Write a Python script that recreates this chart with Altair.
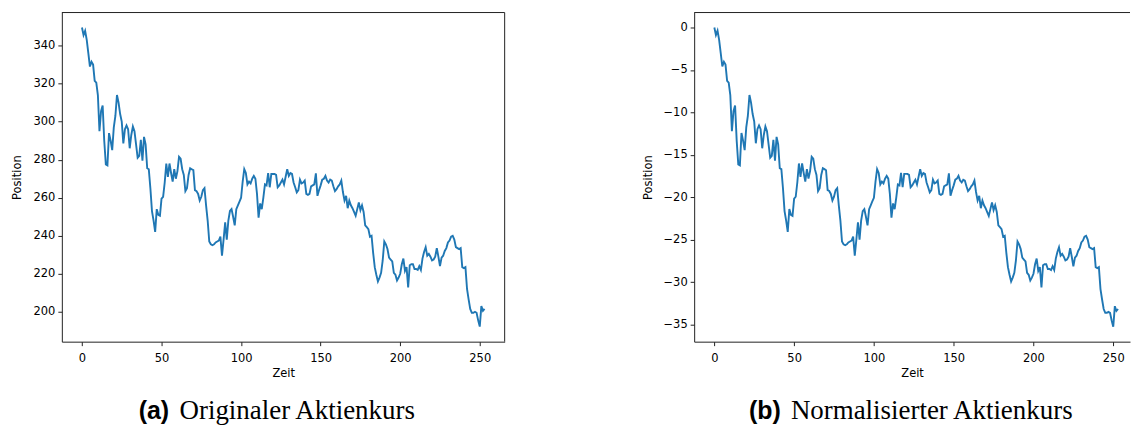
import altair as alt
import pandas as pd

# ---------------- data ----------------
zeit = list(range(254))

original = [
    349.5, 345.5, 347.8, 343, 336, 329, 331.5, 330, 321.5, 320.5,
    314, 295, 305.5, 308.5, 290, 277.5, 277, 294, 290, 285,
    297, 303, 314, 310, 304, 300, 288.6, 296, 298, 296,
    286, 293, 297.5, 295, 288, 281, 282, 290.5, 279.5, 292,
    288, 275.5, 275, 265, 253, 248, 242, 254, 251, 250.5,
    259.5, 260.5, 268, 278, 271, 278, 273, 268.5, 275, 270,
    274, 281.5, 280.5, 275, 272, 263.5, 265, 272, 275.5, 275,
    274.5, 264, 263.5, 262, 258.5, 260.5, 264, 265, 256, 248,
    237, 235.5, 235, 235.5, 236.5, 237, 237.5, 239.5, 229.5, 238,
    247, 238, 248, 253, 254, 250, 245.5, 254, 256, 258,
    260, 268.5, 275, 273, 267, 268.5, 267.5, 270, 271.5, 270,
    262, 249.5, 257, 254, 260, 267, 266.5, 273, 265.5, 272.5,
    272.5, 272.5, 272, 265.5, 266.5, 268, 269.5, 267, 271, 275,
    271.5, 273, 272.5, 268, 265.5, 262.8, 264, 269.5, 267.5, 268,
    269, 262, 261.5, 262, 266, 266.5, 267, 272.8, 261, 264,
    266.5, 269.5, 270, 271.5, 269, 268, 269.5, 269, 266, 263.5,
    264.5, 266, 267, 269, 263, 258.5, 261, 254.5, 258.5, 256,
    254.5, 252.5, 250.5, 254, 257.5, 253.5, 256, 252.5, 245.5, 244.5,
    243.5, 239.5, 240, 231, 223.5, 219.5, 216, 218, 220.5, 227,
    237, 235.5, 233, 228.5, 227.5, 226.5, 220.5, 219.5, 216.5, 218,
    220, 225, 228, 221.5, 223.5, 212.8, 224.5, 225, 225, 222.5,
    222.5, 222, 224, 222, 228, 231.5, 234, 229.5, 230.5, 229,
    227, 227.5, 229, 233.5, 229, 224, 228.5, 229.5, 232, 233.5,
    236.5, 237.5, 239.5, 240, 238, 234, 233.5, 233, 233.5, 223.5,
    223, 223.5, 212, 206.5, 201.5, 199.5, 199.5, 200, 199.5, 195.5,
    192.2, 203, 200.5, 201.5,
]

normalisiert = [
    0.0, -0.90, -0.38, -1.46, -3.03, -4.60, -4.04, -4.37, -6.28, -6.50,
    -7.96, -12.22, -9.86, -9.19, -13.34, -16.14, -16.25, -12.44, -13.34, -14.46,
    -11.77, -10.43, -7.96, -8.86, -10.20, -11.10, -13.65, -11.99, -11.55, -11.99,
    -14.24, -12.67, -11.66, -12.22, -13.79, -15.36, -15.13, -13.23, -15.69, -12.89,
    -13.79, -16.59, -16.70, -18.94, -21.64, -22.76, -24.10, -21.41, -22.08, -22.20,
    -20.18, -19.95, -18.27, -16.03, -17.60, -16.03, -17.15, -18.16, -16.70, -17.82,
    -16.93, -15.25, -15.47, -16.70, -17.38, -19.28, -18.94, -17.38, -16.59, -16.70,
    -16.82, -19.17, -19.28, -19.62, -20.40, -19.95, -19.17, -18.94, -20.96, -22.76,
    -25.22, -25.56, -25.67, -25.56, -25.33, -25.22, -25.11, -24.66, -26.90, -25.00,
    -22.98, -25.00, -22.76, -21.64, -21.41, -22.31, -23.32, -21.41, -20.96, -20.51,
    -20.07, -18.16, -16.70, -17.15, -18.50, -18.16, -18.38, -17.82, -17.49, -17.82,
    -19.62, -22.42, -20.74, -21.41, -20.07, -18.50, -18.61, -17.15, -18.83, -17.26,
    -17.26, -17.26, -17.38, -18.83, -18.61, -18.27, -17.94, -18.50, -17.60, -16.70,
    -17.49, -17.15, -17.26, -18.27, -18.83, -19.44, -19.17, -17.94, -18.38, -18.27,
    -18.05, -19.62, -19.73, -19.62, -18.72, -18.61, -18.50, -17.20, -19.84, -19.17,
    -18.61, -17.94, -17.82, -17.49, -18.05, -18.27, -17.94, -18.05, -18.72, -19.28,
    -19.06, -18.72, -18.50, -18.05, -19.39, -20.40, -19.84, -21.30, -20.40, -20.96,
    -21.30, -21.75, -22.20, -21.41, -20.63, -21.52, -20.96, -21.75, -23.32, -23.54,
    -23.77, -24.66, -24.55, -26.57, -28.25, -29.15, -29.93, -29.48, -28.92, -27.46,
    -25.22, -25.56, -26.12, -27.13, -27.35, -27.58, -28.92, -29.15, -29.82, -29.48,
    -29.03, -27.91, -27.24, -28.70, -28.25, -30.65, -28.03, -27.91, -27.91, -28.47,
    -28.47, -28.59, -28.14, -28.59, -27.24, -26.46, -25.90, -26.90, -26.68, -27.02,
    -27.46, -27.35, -27.02, -26.01, -27.02, -28.14, -27.13, -26.90, -26.34, -26.01,
    -25.33, -25.11, -24.66, -24.55, -25.00, -25.90, -26.01, -26.12, -26.01, -28.25,
    -28.36, -28.25, -30.83, -32.06, -33.18, -33.63, -33.63, -33.52, -33.63, -34.53,
    -35.27, -32.85, -33.41, -33.18,
]

x_ticks = [0, 50, 100, 150, 200, 250]
y_ticks_original = [200, 220, 240, 260, 280, 300, 320, 340]
y_ticks_normalisiert = [-35, -30, -25, -20, -15, -10, -5, 0]
x_title = "Zeit"
y_title = "Position"
caption_a = ["(a)", "Originaler Aktienkurs"]
caption_b = ["(b)", "Normalisierter Aktienkurs"]

# ---------------- chart ----------------
df = pd.DataFrame({"Zeit": zeit, "orig": original, "norm": normalisiert})
one = pd.DataFrame({"k": [0]})

H = 330
BLUE = "#1f77b4"
FRAME = "#222222"


def panel(field, ydom, yticks, xdom, width, caption, cap_x, right_border):
    line = alt.Chart(df).mark_line(color=BLUE, strokeWidth=1.9).encode(
        x=alt.X("Zeit:Q",
                scale=alt.Scale(domain=xdom, nice=False, zero=False),
                axis=alt.Axis(values=x_ticks, title=x_title)),
        y=alt.Y(f"{field}:Q",
                scale=alt.Scale(domain=ydom, nice=False, zero=False),
                axis=alt.Axis(values=yticks, title=y_title)),
    )
    top = alt.Chart(one).mark_rule(color=FRAME, strokeWidth=1).encode(
        x=alt.value(0), x2=alt.value(width), y=alt.value(0))
    layers = [line, top]
    if right_border:
        layers.append(alt.Chart(one).mark_rule(color=FRAME, strokeWidth=1).encode(
            x=alt.value(width), y=alt.value(0), y2=alt.value(H)))
    lab = alt.Chart(pd.DataFrame({"t": [caption[0]]})).mark_text(
        font="Liberation Sans", fontWeight="bold", fontSize=25, align="left",
        baseline="alphabetic", color="black").encode(
        text="t:N", x=alt.value(cap_x[0]), y=alt.value(408))
    txt = alt.Chart(pd.DataFrame({"t": [caption[1]]})).mark_text(
        font="Liberation Serif", fontSize=27, align="left",
        baseline="alphabetic", color="black").encode(
        text="t:N", x=alt.value(cap_x[1]), y=alt.value(408))
    layers += [lab, txt]
    return alt.layer(*layers).properties(width=width, height=H)


left = panel("orig", [184.3, 357.4], y_ticks_original, [-12.65, 265.65], 444,
             caption_a, (77, 118), True)
right = panel("norm", [-37.03, 1.76], y_ticks_normalisiert, [-12.65, 260.5], 437,
              caption_b, (55, 97), False)

chart = alt.hconcat(left, right, spacing=190, bounds="flush").properties(
    padding={"left": 11, "top": 11, "right": 0, "bottom": 0}
).configure_view(stroke="transparent").configure_axis(
    labelFont="DejaVu Sans", labelFontSize=11.5, labelColor="black",
    titleFont="DejaVu Sans", titleFontSize=11.5, titleFontWeight="normal",
    titleColor="black", tickColor=FRAME, tickSize=4, tickWidth=1,
    domainColor=FRAME, domainWidth=1, grid=False, labelPadding=3,
).configure_axisY(titlePadding=10).configure_axisX(titlePadding=3, labelPadding=7)

chart.save("out.html", embed_options={"renderer": "svg", "actions": False})
